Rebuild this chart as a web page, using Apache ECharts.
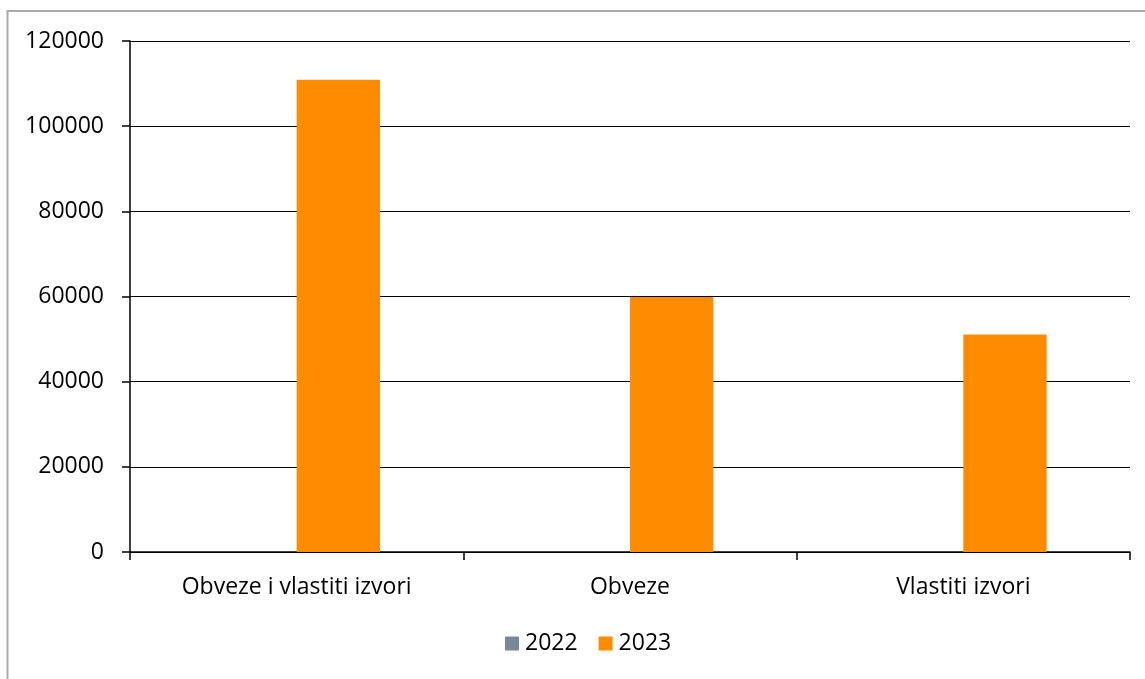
<!DOCTYPE html>
<html>
<head>
<meta charset="utf-8">
<script src="https://cdn.jsdelivr.net/npm/echarts@6/dist/echarts.min.js"></script>
<style>
html,body{margin:0;padding:0;background:#fff;}
#chart{width:1145px;height:679px;}
</style>
</head>
<body>
<div id="chart"></div>
<script>
const categories = ['Obveze i vlastiti izvori', 'Obveze', 'Vlastiti izvori'];
const seriesNames = ['2022', '2023'];
const values2022 = [0, 0, 0];
const values2023 = [110900, 59900, 51100];
const yTicks = { min: 0, max: 120000, interval: 20000 };

const chart = echarts.init(document.getElementById('chart'));
const FONT = 'Open Sans';
chart.setOption({
  animation: false,
  textStyle: { fontFamily: FONT },
  graphic: [{
    type: 'rect',
    shape: { x: 7.5, y: 11, width: 1200, height: 720 },
    style: { fill: 'none', stroke: '#aaaaaa', lineWidth: 2 },
    silent: true
  }],
  grid: { left: 130, right: 15, top: 41, bottom: 127, containLabel: false },
  legend: {
    top: 632,
    left: 505,
    itemWidth: 14, itemHeight: 14, itemGap: 21, padding: 0,
    icon: 'rect',
    textStyle: { fontFamily: FONT, fontSize: 23, color: '#000', padding: [0, 0, 0, 1] },
    data: seriesNames
  },
  xAxis: {
    type: 'category',
    data: categories,
    axisLine: { lineStyle: { color: '#000', width: 1.5 } },
    axisTick: { show: true, length: 8, lineStyle: { color: '#000', width: 1.5 } },
    axisLabel: { fontFamily: FONT, fontSize: 23, color: '#000', margin: 24 }
  },
  yAxis: {
    type: 'value',
    min: yTicks.min, max: yTicks.max, interval: yTicks.interval,
    axisLine: { show: true, lineStyle: { color: '#000', width: 1.5 } },
    axisTick: { show: true, length: 8, lineStyle: { color: '#000', width: 1.5 } },
    splitLine: { lineStyle: { color: '#000', width: 1.2 } },
    axisLabel: { fontFamily: FONT, fontSize: 23, color: '#000', margin: 26, formatter: v => String(v) }
  },
  series: [
    { name: seriesNames[0], type: 'bar', data: values2022, barGap: '0%', barCategoryGap: '50%', itemStyle: { color: '#778899' } },
    { name: seriesNames[1], type: 'bar', data: values2023, barGap: '0%', barCategoryGap: '50%', itemStyle: { color: '#FF8C00' } }
  ]
});
</script>
</body>
</html>
